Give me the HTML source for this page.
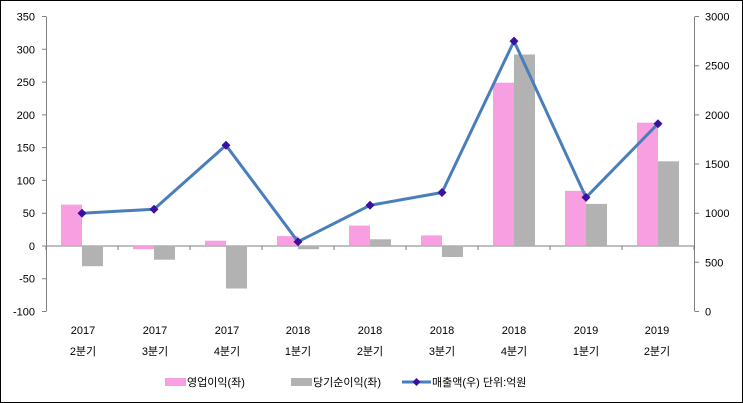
<!DOCTYPE html>
<html><head><meta charset="utf-8"><style>
html,body{margin:0;padding:0;background:#fff}
svg{display:block}
text{font-family:"Liberation Sans","Noto Sans CJK KR",sans-serif;font-size:11px;fill:#000}
</style></head><body>
<svg width="743" height="403" viewBox="0 0 743 403" xmlns="http://www.w3.org/2000/svg">
<rect x="0.5" y="0.5" width="742" height="402" fill="#fff" stroke="#000" stroke-width="1"/>
<!-- axes -->
<g stroke="#808080" stroke-width="1" fill="none">
<line x1="46.5" y1="16.5" x2="46.5" y2="311.5"/>
<line x1="694.5" y1="16.5" x2="694.5" y2="311.5"/>
<line x1="46" y1="246" x2="694" y2="246"/>
<path d="M42 16.5H46M42 49.3H46M42 82.1H46M42 114.9H46M42 147.6H46M42 180.4H46M42 213.2H46M42 246H46M42 278.7H46M42 311.5H46"/>
<path d="M695 16.5H699M695 65.7H699M695 114.9H699M695 164H699M695 213.2H699M695 262.3H699M695 311.5H699"/>
<path d="M46 246V250M118 246V250M190 246V250M262 246V250M334 246V250M406 246V250M478 246V250M550 246V250M622 246V250M694 246V250"/>
</g>
<g text-anchor="end">
<text x="35" y="20.5">350</text><text x="35" y="53.3">300</text><text x="35" y="86.1">250</text><text x="35" y="118.9">200</text><text x="35" y="151.6">150</text><text x="35" y="184.4">100</text><text x="35" y="217.2">50</text><text x="35" y="250">0</text><text x="35" y="282.7">-50</text><text x="35" y="315.5">-100</text>
</g>
<g>
<text x="705" y="20.5">3000</text><text x="705" y="69.7">2500</text><text x="705" y="118.9">2000</text><text x="705" y="168">1500</text><text x="705" y="217.2">1000</text><text x="705" y="266.3">500</text><text x="705" y="315.5">0</text>
</g>
<!-- bars -->
<g fill="#f79fe0">
<rect x="61" y="204.6" width="21" height="41.3"/>
<rect x="133" y="245.9" width="21" height="3.3"/>
<rect x="205" y="240.7" width="21" height="5.2"/>
<rect x="277" y="236.1" width="21" height="9.8"/>
<rect x="349" y="225.6" width="21" height="20.3"/>
<rect x="421" y="235.4" width="21" height="10.5"/>
<rect x="493" y="82.7" width="21" height="163.2"/>
<rect x="565" y="190.8" width="21" height="55.1"/>
<rect x="637" y="122.7" width="21" height="123.2"/>
</g>
<g fill="#b2b2b2">
<rect x="82" y="245.9" width="21" height="20.3"/>
<rect x="154" y="245.9" width="21" height="13.8"/>
<rect x="226" y="245.9" width="21" height="42.6"/>
<rect x="298" y="245.9" width="21" height="3.3"/>
<rect x="370" y="239.3" width="21" height="6.6"/>
<rect x="442" y="245.9" width="21" height="11.1"/>
<rect x="514" y="54.5" width="21" height="191.4"/>
<rect x="586" y="203.9" width="21" height="42"/>
<rect x="658" y="161.3" width="21" height="84.6"/>
</g>
<!-- line -->
<polyline points="82,213.2 154,209.2 226,145.3 298,241.7 370,205.3 442,192.5 514,41.1 586,197.4 658,123.7" fill="none" stroke="#4a7ebb" stroke-width="3" stroke-linejoin="round"/>
<g fill="#3b0fa0">
<path d="M82 208.7l4.5 4.5-4.5 4.5-4.5-4.5z"/>
<path d="M154 204.7l4.5 4.5-4.5 4.5-4.5-4.5z"/>
<path d="M226 140.8l4.5 4.5-4.5 4.5-4.5-4.5z"/>
<path d="M298 237.2l4.5 4.5-4.5 4.5-4.5-4.5z"/>
<path d="M370 200.8l4.5 4.5-4.5 4.5-4.5-4.5z"/>
<path d="M442 188l4.5 4.5-4.5 4.5-4.5-4.5z"/>
<path d="M514 36.6l4.5 4.5-4.5 4.5-4.5-4.5z"/>
<path d="M586 192.9l4.5 4.5-4.5 4.5-4.5-4.5z"/>
<path d="M658 119.2l4.5 4.5-4.5 4.5-4.5-4.5z"/>
</g>
<!-- category labels -->
<g text-anchor="middle">
<text x="83" y="334">2017</text><text x="155" y="334">2017</text><text x="227" y="334">2017</text><text x="298" y="334">2018</text><text x="370" y="334">2018</text><text x="442" y="334">2018</text><text x="514" y="334">2018</text><text x="586" y="334">2019</text><text x="657" y="334">2019</text>
<text x="83" y="355">2분기</text><text x="155" y="355">3분기</text><text x="227" y="355">4분기</text><text x="298" y="355">1분기</text><text x="370" y="355">2분기</text><text x="442" y="355">3분기</text><text x="514" y="355">4분기</text><text x="586" y="355">1분기</text><text x="657" y="355">2분기</text>
</g>
<!-- legend -->
<rect x="165" y="378" width="21" height="8" fill="#f79fe0"/>
<text x="187" y="386">영업이익(좌)</text>
<rect x="291" y="378" width="21" height="8" fill="#b2b2b2"/>
<text x="313" y="386">당기순이익(좌)</text>
<line x1="402" y1="382" x2="431" y2="382" stroke="#4a7ebb" stroke-width="3"/>
<path d="M416.5 378l4 4-4 4-4-4z" fill="#3b0fa0"/>
<text x="432" y="386">매출액(우)  단위:억원</text>
</svg>
</body></html>
